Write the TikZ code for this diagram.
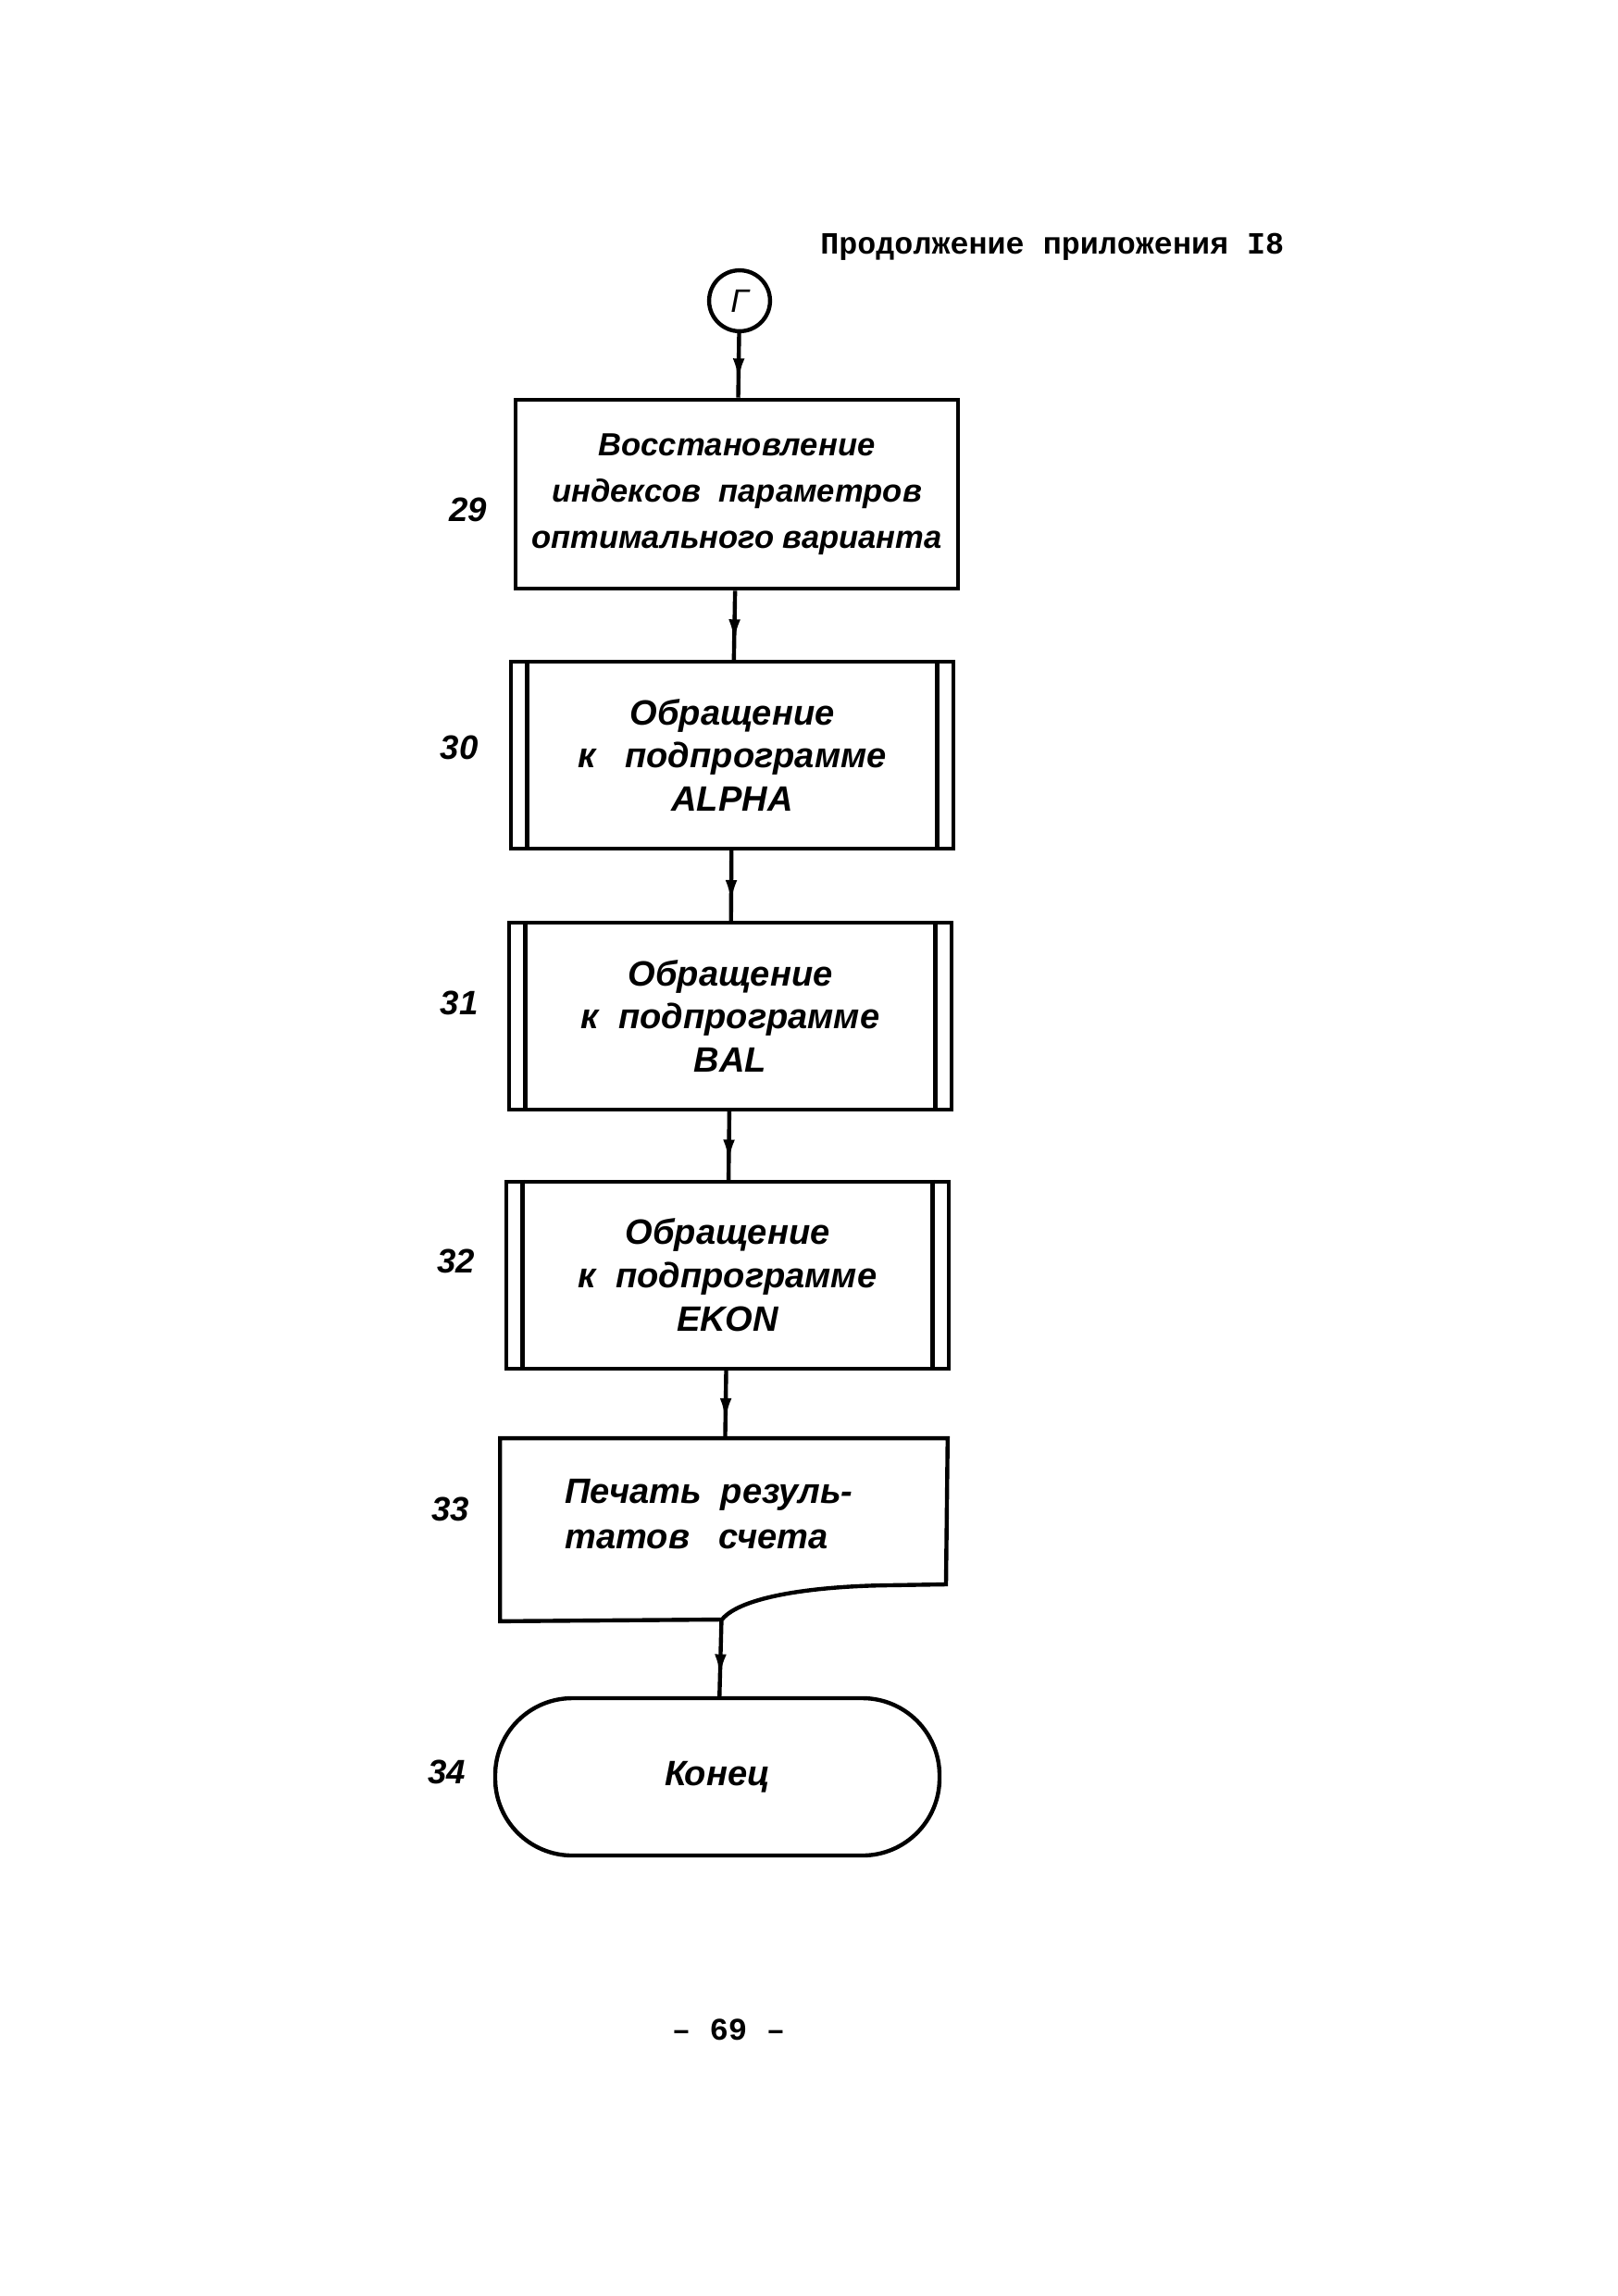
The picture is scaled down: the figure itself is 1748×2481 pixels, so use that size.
\documentclass[tikz,border=0pt]{standalone}
\usepackage{fontspec}
\setmainfont{Liberation Serif}
\newfontfamily\handfont{Liberation Sans}
\newfontfamily\typefont{Liberation Mono}
\usetikzlibrary{positioning}
\usetikzlibrary{calc}
\usetikzlibrary{decorations.markings}
\usetikzlibrary{arrows.meta}
\tikzset{
  box/.style={draw, line width=1.5pt, minimum width=57.4mm, minimum height=24.2mm, inner sep=0pt, align=center,
    font=\handfont\bfseries\itshape\fontsize{13}{16}\selectfont},
  num/.style={font=\handfont\bfseries\itshape\fontsize{12.5}{14}\selectfont},
  flow/.style={line width=1.5pt, decoration={markings, mark=at position 0.75 with {\arrow{Latex[length=3mm,width=1.5mm]}}}, postaction={decorate}}
}

\begin{document}
\begin{tikzpicture}[x=0.12mm, y=-0.12mm]
		% Page
		\fill[white] (0,0) rectangle (1748,2481);
		% Heading and page number
		\node[anchor=west, font=\typefont\bfseries\fontsize{11.4}{14}\selectfont] (head) at (876,267) {Продолжение приложения I8};
		\node[font=\typefont\bfseries\fontsize{11.6}{14}\selectfont] (page) at (787,2193) {– 69 –};
		% Connector
		\node[draw, circle, line width=1.5pt, minimum size=7.9mm, inner sep=0pt, font=\handfont\itshape\fontsize{12}{14}\selectfont] (c) at (799,325) {Г};
		% Draw boxes
		\node[box, minimum height=24.5mm, font=\handfont\bfseries\itshape\fontsize{11.8}{17}\selectfont] (b29) at (796,534) {Восстановление\\индексов\ \ параметров\\оптимального варианта};
		\node[box] (b30) at (791,816) {Обращение\\к\ \ \ подпрограмме\\ALPHA};
		\node[box] (b31) at (789,1098) {Обращение\\к\ \ подпрограмме\\BAL};
		\node[box] (b32) at (786,1378) {Обращение\\к\ \ подпрограмме\\EKON};
		\node[box, draw=none, minimum width=57.5mm, minimum height=23.2mm] (b33) at (782,1653) {};
		\node[box, draw=none, align=left, minimum width=0mm, minimum height=0mm, font=\handfont\bfseries\itshape\fontsize{13}{17}\selectfont] (b33text) at (766,1636) {Печать\ \ резуль-\\татов\ \ \ счета};
		\node[box, rounded corners=10mm, minimum width=57.6mm, minimum height=20.4mm] (b34) at (775,1920) {Конец};
		% Double sides of the subroutine boxes
		\draw[line width=1.5pt] ($(b30.north west)+(20,0)$) -- ($(b30.south west)+(20,0)$);
		\draw[line width=1.5pt] ($(b30.north east)+(-20,0)$) -- ($(b30.south east)+(-20,0)$);
		\draw[line width=1.5pt] ($(b31.north west)+(20,0)$) -- ($(b31.south west)+(20,0)$);
		\draw[line width=1.5pt] ($(b31.north east)+(-20,0)$) -- ($(b31.south east)+(-20,0)$);
		\draw[line width=1.5pt] ($(b32.north west)+(20,0)$) -- ($(b32.south west)+(20,0)$);
		\draw[line width=1.5pt] ($(b32.north east)+(-20,0)$) -- ($(b32.south east)+(-20,0)$);
		% Document outline
		\draw[line width=1.5pt] (b33.north west) -- (b33.north east) -- (1022,1712) -- (960,1713)
			.. controls (880,1714) and (800,1725) .. (780,1750) -- (b33.south west) -- cycle;
		% Numbers
		\node[num] (n29) at (506,551) {29};
		\node[num] (n30) at (496,808) {30};
		\node[num] (n31) at (496,1084) {31};
		\node[num] (n32) at (493,1363) {32};
		\node[num] (n33) at (487,1631) {33};
		\node[num] (n34) at (483,1915) {34};
		% Draw arrows
		\draw[flow] (c) -- (b29);
		\draw[flow] (b29) -- (b30);
		\draw[flow] (b30) -- (b31);
		\draw[flow] (b31) -- (b32);
		\draw[flow] (b32) -- (b33);
		\draw[flow] (b33) -- (b34);
	\end{tikzpicture}
\end{document}
